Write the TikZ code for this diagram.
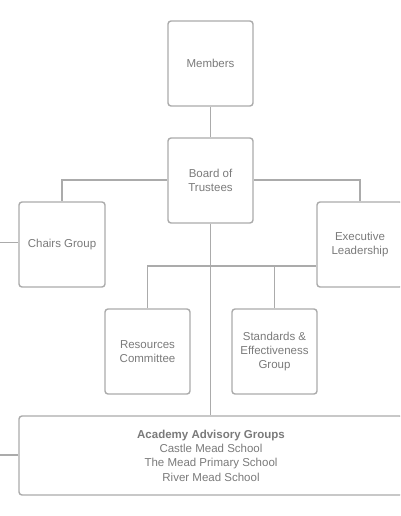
\documentclass[tikz,border=0pt]{standalone}
\usepackage{fontspec}
\setmainfont{Liberation Sans}
\definecolor{edge}{HTML}{ABABAB}
\definecolor{txt}{HTML}{7A7A7A}
\tikzset{
  x=1pt, y=-1pt,
  boxnode/.style={draw=edge, line width=1.4pt, rounded corners=3pt, inner sep=0pt,
    text=txt, font=\fontsize{11.5}{14.3}\selectfont, align=center},
  conn/.style={draw=edge, line width=1.4pt},
}
\begin{document}
\begin{tikzpicture}
\useasboundingbox (0,0) rectangle (400,516);
\clip (0,0) rectangle (400,516);
\node[boxnode, minimum width=85pt, minimum height=85pt] (mem) at (210.5,63.5) {Members};
\node[boxnode, minimum width=85pt, minimum height=85pt] (bot) at (210.5,180.5) {Board of\\Trustees};
\node[boxnode, minimum width=86pt, minimum height=85pt] (chairs) at (62,244.5) {Chairs Group};
\node[boxnode, minimum width=86pt, minimum height=85pt] (exec) at (360,244.5) {Executive\\Leadership};
\node[boxnode, minimum width=85pt, minimum height=85pt] (res) at (147.5,351.5) {Resources\\Committee};
\node[boxnode, minimum width=85pt, minimum height=85pt] (std) at (274.5,351.5) {Standards \&\\Effectiveness\\Group};
\node[boxnode, minimum width=384pt, minimum height=79pt] (aag) at (211,455.5) {\textbf{Academy Advisory Groups}\\Castle Mead School\\The Mead Primary School\\River Mead School};
\coordinate (lc) at (0,242.5);
\coordinate (la) at (0,455);
\coordinate (hub) at (211,266);
\draw[conn] (mem) -- (bot);
\draw[conn] (bot.west |- 0,180) -| (chairs.north);
\draw[conn] (bot.east |- 0,180) -| (exec.north);
\draw[conn] (bot.south) -- (aag.north -| bot.south);
\draw[conn] (exec.west |- hub) -| (res.north);
\draw[conn] (std.north) -- (std.north |- hub);
\draw[conn] (chairs.west |- lc) -- (lc);
\draw[conn] (aag.west |- la) -- (la);
\end{tikzpicture}
\end{document}
